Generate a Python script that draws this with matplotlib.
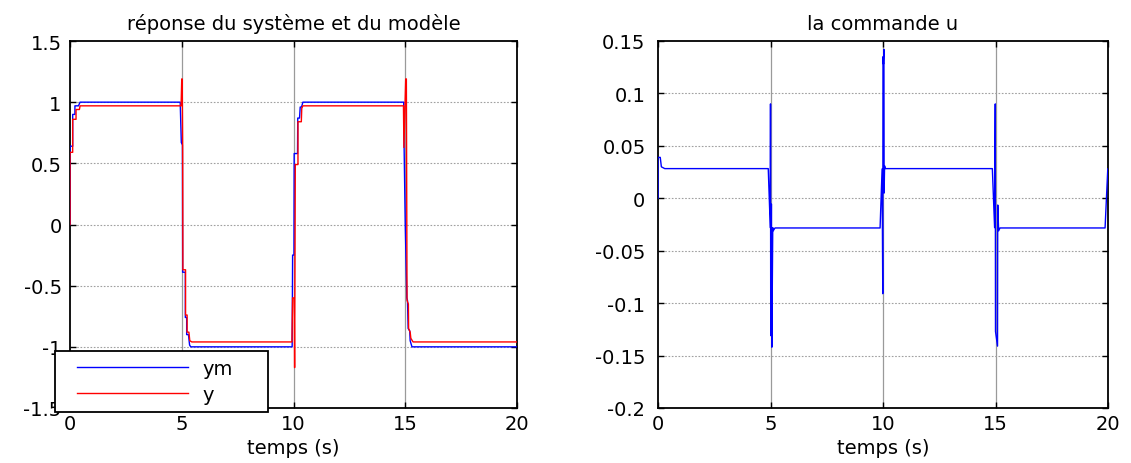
import matplotlib
matplotlib.use("Agg")
import matplotlib.pyplot as plt
from matplotlib.legend_handler import HandlerLine2D

plt.rcParams['font.family'] = ['DejaVu Sans']

# ---------------- data ----------------
t_ym = [0, 0, 0.12, 0.12, 0.22, 0.22, 0.38, 0.45,
        4.93, 4.98, 5.03, 5.04, 5.16, 5.16, 5.22, 5.22, 5.3, 5.35, 5.4,
        9.94, 9.96, 10.02, 10.03, 10.18, 10.19, 10.27, 10.3, 10.36, 10.42,
        14.93, 14.95, 15.0, 15.07, 15.1, 15.13, 15.2, 15.22, 15.3, 20.0]
ym = [0, 0.64, 0.64, 0.9, 0.9, 0.97, 0.97, 1.0,
      1.0, 0.67, 0.65, -0.39, -0.39, -0.76, -0.76, -0.9, -0.9, -0.985, -1.0,
      -1.0, -0.25, -0.25, 0.58, 0.58, 0.87, 0.87, 0.96, 0.96, 1.0,
      1.0, 0.62, 0.0, -0.6, -0.62, -0.85, -0.87, -0.95, -1.0, -1.0]

t_y = [0, 0, 0.12, 0.12, 0.27, 0.27, 0.42, 0.45,
       4.93, 4.97, 5.0, 5.02, 5.04, 5.05, 5.17, 5.17, 5.24, 5.24, 5.32, 5.36, 5.45,
       9.93, 9.96, 10.03, 10.05, 10.08, 10.2, 10.2, 10.35, 10.37, 10.42,
       14.92, 14.94, 15.02, 15.05, 15.07, 15.08, 15.14, 15.15, 15.22, 15.25, 15.35, 20.0]
y = [0, 0.59, 0.59, 0.86, 0.86, 0.94, 0.94, 0.97,
     0.97, 0.97, 1.19, 1.19, 0.64, -0.37, -0.37, -0.74, -0.74, -0.88, -0.88, -0.95, -0.96,
     -0.96, -0.6, -0.6, -1.17, 0.49, 0.49, 0.84, 0.84, 0.95, 0.97,
     0.97, 0.63, 1.19, 1.19, 0.0, -0.62, -0.65, -0.85, -0.88, -0.93, -0.96, -0.96]

t_u = [0, 0, 0.1, 0.15, 0.3,
       4.9, 4.99, 5.0, 5.01, 5.04, 5.06, 5.1, 5.12, 5.2,
       9.87, 9.96, 9.99, 10.0, 10.02, 10.04, 10.05, 10.07, 10.1,
       14.86, 14.96, 14.99, 15.0, 15.09, 15.1, 15.14, 15.2,
       19.87, 19.99]
u = [0, 0.039, 0.039, 0.03, 0.0283,
     0.0283, -0.028, 0.09, -0.131, -0.0055, -0.142, -0.028, -0.031, -0.0283,
     -0.0283, 0.028, -0.091, 0.135, 0.128, 0.142, 0.005, 0.031, 0.0283,
     0.0283, -0.028, 0.09, -0.127, -0.141, -0.0064, -0.031, -0.0283,
     -0.0283, 0.028]

xticks = [0, 5, 10, 15, 20]
yticks_left = [-1.5, -1, -0.5, 0, 0.5, 1, 1.5]
ylabels_left = ['-1.5', '-1', '-0.5', '0', '0.5', '1', '1.5']
yticks_right = [-0.2, -0.15, -0.1, -0.05, 0, 0.05, 0.1, 0.15]
ylabels_right = ['-0.2', '-0.15', '-0.1', '-0.05', '0', '0.05', '0.1', '0.15']

title_left = "réponse du système et du modèle"
title_right = "la commande u"
xlabel = "temps (s)"

FS = 14

# ---------------- figure ----------------
W, H = 1131, 464
fig = plt.figure(figsize=(W / 100, H / 100), dpi=100)
ax1 = fig.add_axes([70 / W, 1 - 409 / H, 447 / W, 367 / H])
ax2 = fig.add_axes([658 / W, 1 - 409 / H, 450 / W, 367 / H])


def style(ax, yt, yl, ylim, ypad):
    ax.set_xlim(0, 20)
    ax.set_ylim(*ylim)
    ax.set_xticks(xticks)
    ax.set_xticklabels([str(v) for v in xticks])
    ax.set_yticks(yt)
    ax.set_yticklabels(yl)
    for v in xticks[1:-1]:
        ax.axvline(v, color='#9a9a9a', lw=0.9, zorder=0)
    for v in yt[1:-1]:
        ax.axhline(v, color='#a0a0a0', lw=0.8, ls=(0, (1.5, 1.5)), zorder=0)
    ax.tick_params(direction='in', top=True, right=True, length=4, width=1,
                   labelsize=FS, colors='black')
    ax.tick_params(axis='x', pad=4)
    ax.tick_params(axis='y', pad=ypad)
    for s in ax.spines.values():
        s.set_linewidth(1.3)
        s.set_color('black')
    ax.set_xlabel(xlabel, fontsize=FS, labelpad=4)


ax1.plot(t_ym, ym, color='#0000ff', lw=1.0, label='ym', zorder=3)
ax1.plot(t_y, y, color='#ff0000', lw=1.0, label='y', zorder=4)
style(ax1, yticks_left, ylabels_left, (-1.5, 1.5), 6)
ax1.set_title(title_left, fontsize=FS, pad=9)

ax2.plot(t_u, u, color='#0000ff', lw=1.0, zorder=3)
style(ax2, yticks_right, ylabels_right, (-0.2, 0.15), 9)
ax2.set_title(title_right, fontsize=FS, pad=9)

fs_px = FS * 100 / 72.0
leg = ax1.legend(loc='lower left', bbox_to_anchor=(55 / W, 1 - 413 / H, 213 / W, 61 / H),
                 bbox_transform=fig.transFigure, mode='expand', borderaxespad=0,
                 fontsize=FS, handlelength=(111 + 14) / fs_px, handletextpad=14 / fs_px,
                 borderpad=8 / fs_px, labelspacing=0.36, fancybox=False,
                 framealpha=1, edgecolor='black',
                 handler_map={plt.Line2D: HandlerLine2D(xpad=14 / fs_px)})
leg.get_frame().set_linewidth(1.3)
leg.set_zorder(10)

fig.savefig('out.png', dpi=100)
